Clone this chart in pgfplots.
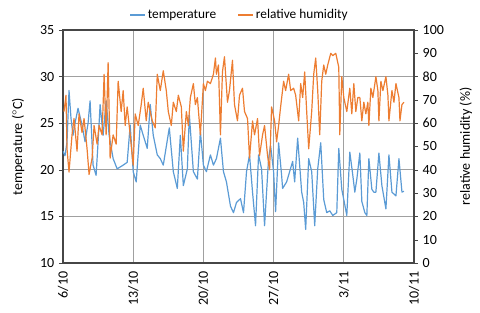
\documentclass[border=0pt]{standalone}
\usepackage{pgfplots}
\pgfplotsset{compat=1.18}
\usepackage{fontspec}
\setmainfont{Carlito}
\definecolor{tblue}{RGB}{91,155,213}
\definecolor{horange}{RGB}{237,125,49}
\definecolor{gridgray}{RGB}{160,160,160}
\definecolor{axgray}{RGB}{70,70,70}
\begin{document}
\begin{tikzpicture}
\useasboundingbox (-47.25pt,-37.5pt) rectangle (312.75pt,197.25pt);
\pgfplotsset{every axis/.append style={
  scale only axis, width=263.25pt, height=174.75pt,
  xmin=0, xmax=35,
  /pgf/number format/assume math mode=true,
  tick label style={font=\fontsize{10.5}{12}\selectfont},
  label style={font=\fontsize{10.5}{12}\selectfont},
  tick align=outside, major tick length=3pt,
}}
\begin{axis}[
  ymin=10, ymax=35, ytick={10,15,...,35},
  ytick pos=left,
  xtick={0,7,14,21,28,35},
  xticklabels={6/10,13/10,20/10,27/10,3/11,10/11},
  xtick style={draw=none},
  xticklabel style={rotate=90, anchor=east, xshift=0pt},
  grid=major,
  major grid style={gridgray, line width=0.5pt},
  axis line style={axgray, line width=0.8pt},
  ytick style={axgray},
  ylabel={temperature ($^\circ$C)},
  ylabel style={at={(axis description cs:-0.128,0.5)}, anchor=center},
]
\addplot[tblue, line width=0.9pt, line join=round] coordinates {
(0.0,22.0)(0.2,21.5)(0.4,23.0)(0.6,28.5)(0.8,25.5)(1.0,23.7)(1.2,25.0)(1.5,26.6)
(1.9,24.8)(2.2,23.0)(2.5,25.0)(2.7,27.4)(3.0,20.5)(3.3,19.4)(3.5,23.0)(3.7,27.0)
(4.0,23.7)(4.3,27.4)(4.6,23.7)(5.0,21.2)(5.4,20.1)(5.7,20.3)(6.0,20.5)(6.4,20.8)
(6.7,24.8)(7.0,19.8)(7.3,18.7)(7.7,24.8)(8.0,23.7)(8.4,22.3)(8.7,27.0)(9.0,23.7)
(9.4,21.6)(9.7,21.2)(10.0,20.5)(10.6,24.5)(11.0,19.8)(11.4,18.0)(11.7,23.7)(12.0,18.3)
(12.4,20.1)(12.6,25.9)(13.0,19.8)(13.4,19.0)(13.7,24.1)(14.0,20.5)(14.3,19.8)(14.7,21.6)
(15.0,20.5)(15.3,21.2)(15.7,23.4)(16.0,19.8)(16.3,18.7)(16.7,16.1)(17.0,15.4)(17.3,16.5)
(17.7,16.9)(18.0,15.4)(18.3,19.8)(18.6,21.6)(18.9,17.6)(19.2,14.0)(19.5,21.6)(19.8,20.1)
(20.1,14.0)(20.5,21.2)(20.7,22.6)(21.0,19.8)(21.2,15.5)(21.5,22.9)(21.8,19.4)(21.9,18.0)
(22.3,18.7)(22.6,19.8)(22.9,20.9)(23.1,18.7)(23.4,23.4)(23.8,17.6)(24.0,16.5)(24.2,13.6)
(24.5,21.2)(24.8,19.8)(25.1,14.0)(25.4,20.1)(25.7,22.9)(26.0,16.8)(26.3,15.4)(26.6,15.6)
(26.9,15.1)(27.3,15.4)(27.5,22.3)(27.8,17.9)(28.0,16.8)(28.3,15.1)(28.6,21.9)(28.9,19.4)
(29.1,17.6)(29.3,19.0)(29.6,21.8)(29.8,16.6)(30.1,15.4)(30.3,15.1)(30.5,21.2)(30.8,17.9)
(31.0,17.6)(31.2,17.6)(31.5,21.8)(31.8,18.3)(32.2,15.8)(32.5,21.6)(32.8,17.6)(33.2,17.2)
(33.5,21.2)(33.8,17.6)(34.0,17.7)
};
\end{axis}
\begin{axis}[
  ymin=0, ymax=100, ytick={0,10,...,100},
  axis y line*=right, axis x line=none,
  axis line style={axgray, line width=0.8pt},
  ytick style={axgray},
  ylabel={relative humidity (\%)},
  ylabel style={at={(axis description cs:1.148,0.5)}, anchor=center},
  legend style={at={(0.504,1.064)}, anchor=center, draw=none, fill=none,
    legend columns=2, font=\fontsize{10}{12}\selectfont,
    /tikz/every even column/.append style={column sep=14pt},
    inner sep=0pt},
  legend image code/.code={\draw[#1] (0cm,0cm) -- (0.38cm,0cm);},
]
\addlegendimage{tblue, line width=0.9pt}
\addlegendentry{temperature}
\addplot[horange, line width=0.9pt, line join=round] coordinates {
(0.1,65)(0.3,72)(0.4,49)(0.6,39)(0.9,55)(1.1,62)(1.4,48)(1.6,64)(1.9,56)(2.1,62)
(2.4,49)(2.6,38)(2.9,45)(3.1,59)(3.4,51)(3.6,59)(3.9,55)(4.1,81)(4.3,55)(4.5,86)
(4.7,45)(5.0,55)(5.3,51)(5.5,78)(5.8,65)(6.0,74)(6.2,59)(6.4,67)(6.7,55)(7.0,42)
(7.2,64)(7.5,59)(7.8,68)(8.0,75)(8.3,61)(8.5,69)(8.9,61)(9.2,58)(9.4,81)(9.7,74)
(10.0,82.5)(10.3,74)(10.5,65)(10.8,59)(11.0,69)(11.3,65)(11.5,72)(11.8,67)(12.0,48)(12.3,65)
(12.5,59)(12.7,71)(13.0,77)(13.2,68)(13.4,71)(13.7,55)(14.0,77)(14.2,74)(14.4,78)(14.7,77)
(15.0,81)(15.2,88)(15.3,81)(15.5,85)(15.7,55)(15.9,82)(16.1,88.5)(16.4,69)(16.6,74)(16.9,87)
(17.1,68)(17.4,61)(17.6,72)(17.9,75)(18.1,65)(18.4,62)(18.6,45)(18.9,61)(19.1,55)(19.4,62)
(19.6,46)(19.9,55)(20.1,59)(20.4,46)(20.6,40)(20.8,67)(21.1,61)(21.3,52)(21.5,59)(21.7,67)
(22.0,78)(22.2,74)(22.5,81)(22.7,74)(23.0,75)(23.2,72)(23.5,61)(23.7,77)(23.9,71)(24.1,82)
(24.3,65)(24.5,49)(24.8,65)(25.0,81)(25.2,88)(25.4,74)(25.6,55)(25.8,78)(26.0,85)(26.2,81)
(26.4,85)(26.7,90)(26.9,89)(27.2,90)(27.5,84)(27.6,55)(27.8,80)(28.0,71)(28.3,65)(28.6,75)
(28.8,64)(29.0,77)(29.2,65)(29.4,71)(29.6,71)(29.8,61)(30.0,69)(30.2,64)(30.4,69)(30.5,59)
(30.7,75)(30.9,71)(31.2,80)(31.4,74)(31.5,61)(31.7,78)(31.9,74)(32.2,80)(32.4,72)(32.5,61)
(32.8,74)(33.0,69)(33.2,77)(33.5,71)(33.6,61)(33.8,68)(34.0,69)
};
\addlegendentry{relative humidity}
\end{axis}
\end{tikzpicture}
\end{document}
